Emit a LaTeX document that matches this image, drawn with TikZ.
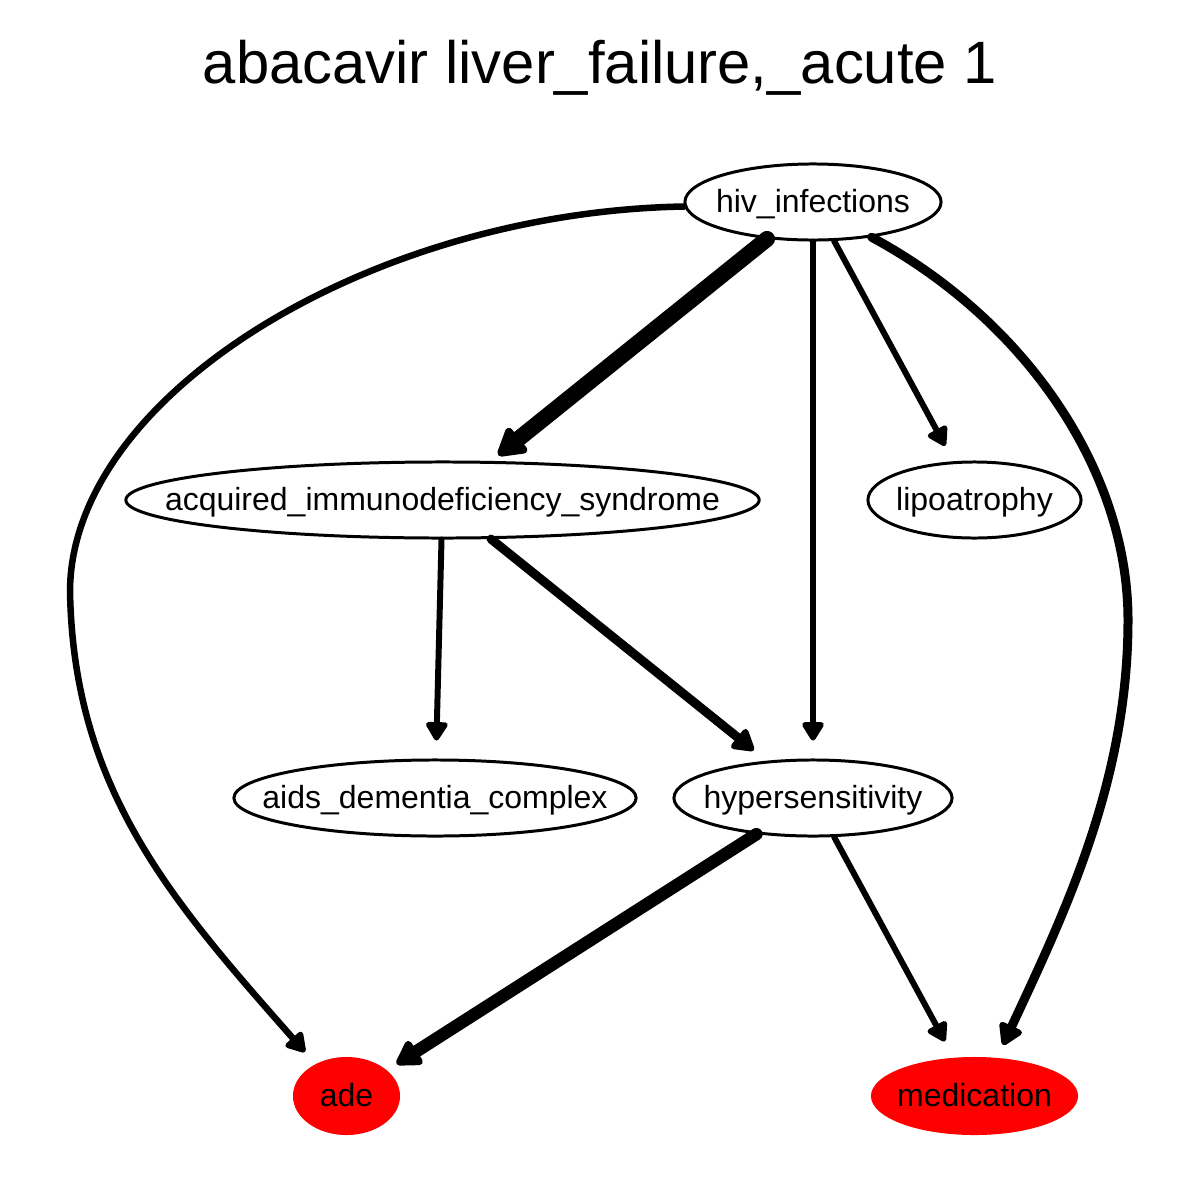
\documentclass[tikz,border=0pt]{standalone}
\usepackage{fontspec}
\setmainfont{Liberation Sans}
\usetikzlibrary{shapes.geometric,arrows.meta}
\newcommand{\nlab}[1]{\makebox[0pt]{\raisebox{-0.33em}[0pt][0pt]{#1}}}
\begin{document}
\begin{tikzpicture}[x=0.01cm,y=-0.01cm,
  vtx/.style={ellipse,draw=black,line width=0.85pt,fill=white,inner sep=0pt,
    font=\fontsize{9.1}{11}\selectfont},
  hit/.style={ellipse,draw=none,fill=red,inner sep=0pt,
    font=\fontsize{9.1}{11}\selectfont},
  edge/.style={draw=black,line cap=round,line join=round,
    -{Triangle[length=4.3pt 1,width=5.2pt 1,round]}},
  ]
\useasboundingbox (0,0) rectangle (1200,1200);
\fill[white] (0,0) rectangle (1200,1200);
\node[anchor=base,font=\fontsize{17}{20}\selectfont] (title) at (600,83) {abacavir liver\_failure,\_acute 1};

\node[vtx,minimum width=2.56cm,minimum height=0.76cm] (hiv) at (813,202) {\nlab{hiv\_infections}};
\node[vtx,minimum width=6.33cm,minimum height=0.76cm] (aids) at (442.5,500) {\nlab{acquired\_immunodeficiency\_syndrome}};
\node[vtx,minimum width=2.13cm,minimum height=0.76cm] (lipo) at (974.5,500) {\nlab{lipoatrophy}};
\node[vtx,minimum width=4.02cm,minimum height=0.76cm] (adc) at (435,798) {\nlab{aids\_dementia\_complex}};
\node[vtx,minimum width=2.78cm,minimum height=0.76cm] (hyp) at (813,798) {\nlab{hypersensitivity}};
\node[hit,minimum width=1.07cm,minimum height=0.78cm] (ade) at (346.5,1096) {\nlab{ade}};
\node[hit,minimum width=2.07cm,minimum height=0.78cm] (med) at (974.5,1096) {\nlab{medication}};

\coordinate (adetip) at (305,1052);
\coordinate (medtip) at (1003,1045);

\draw[edge,line width=4.55pt,shorten >=2.6pt] (hiv) -- (aids);
\draw[edge,line width=1.7pt,shorten >=5.1pt] (hiv) -- (hyp);
\draw[edge,line width=1.7pt,shorten >=5pt] (hiv) -- (lipo);
\draw[edge,line width=1.7pt,shorten >=5.1pt] (aids) -- (adc);
\draw[edge,line width=2.56pt,shorten >=4.7pt] (aids) -- (hyp);
\draw[edge,line width=3.56pt,shorten >=3.1pt] (hyp) -- (ade);
\draw[edge,line width=1.7pt,shorten >=5.1pt] (hyp) -- (med);
\draw[edge,line width=1.85pt] (hiv.182) .. controls (370,212) and (72,395) .. (70,590)
  .. controls (73,790) and (173,902) .. (adetip);
\draw[edge,line width=2.56pt] (hiv.329) .. controls (1025,320) and (1128,470) .. (1128,620)
  .. controls (1128,780) and (1066,910) .. (medtip);
\end{tikzpicture}
\end{document}
